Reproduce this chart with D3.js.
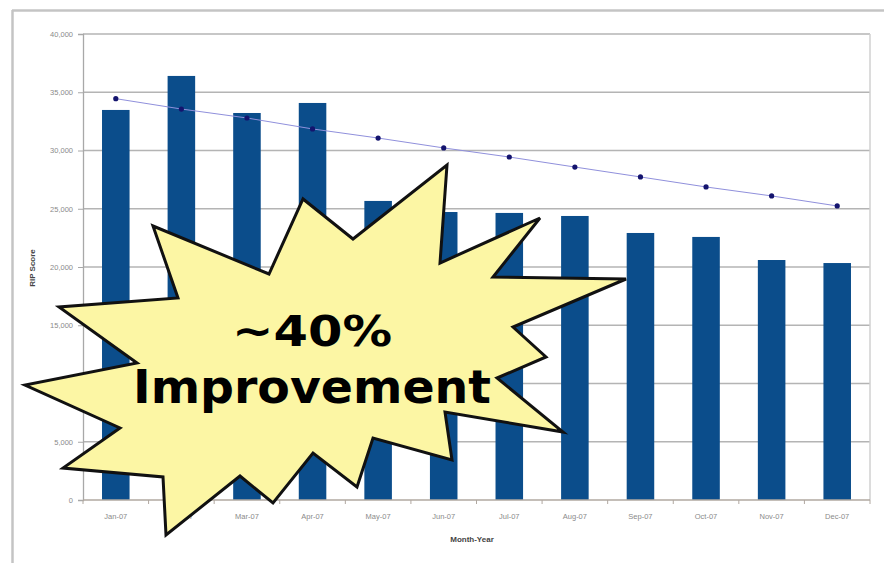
<!DOCTYPE html>
<html><head><meta charset="utf-8">
<script src="https://cdn.jsdelivr.net/npm/d3@7"></script>
<style>html,body{margin:0;padding:0;background:#fff;}svg{display:block;}</style>
</head><body>
<svg id="chart" width="884" height="563"></svg>
<script>
const categories = ["Jan-07","Feb-07","Mar-07","Apr-07","May-07","Jun-07","Jul-07","Aug-07","Sep-07","Oct-07","Nov-07","Dec-07"];
const ripScore = [33480,36400,33220,34080,25670,24720,24640,24380,22920,22580,20600,20340];
const trendValues = [34450,33560,32790,31850,31070,30220,29440,28580,27730,26870,26100,25240];
const yTicks = [0,5000,10000,15000,20000,25000,30000,35000,40000];
const yTitle = "RIP Score";
const xTitle = "Month-Year";
const calloutLines = ["~40%","Improvement"];
// starburst outline, in pixel space of the picture (annotation shape)
const burst = [[153,226],[269,274],[303,199],[353,239],[447,165],[440,263],[540,218],[493,277],[626,279],[513,327],[546,357],[497,378],[563,432],[445,412],[452,460],[373,438],[357,487],[313,453],[273,503],[240,476],[166,535],[163,477],[63,468],[120,428],[25,385],[137,363],[59,307],[178,298]];

const svg = d3.select("#chart");
const L = 83, R = 870, T = 34, B = 500;

// outer frame (top & left)
svg.append("line").attr("x1",12).attr("x2",884).attr("y1",10.5).attr("y2",10.5).attr("stroke","#c4c4c4").attr("stroke-width",2.5);
svg.append("line").attr("x1",12.5).attr("x2",12.5).attr("y1",10).attr("y2",563).attr("stroke","#c4c4c4").attr("stroke-width",2.5);

const x = d3.scaleBand().domain(categories).range([L,R]).paddingInner(0.58).paddingOuter(0.29);
const y = d3.scaleLinear().domain([0,40000]).range([B,T]);

// gridlines
svg.append("g").selectAll("line").data(yTicks.filter(d=>d>0)).join("line")
  .attr("x1",L).attr("x2",R).attr("y1",d=>y(d)).attr("y2",d=>y(d))
  .attr("stroke","#b4b4b4").attr("stroke-width",1.6);
// plot right border
svg.append("line").attr("x1",R).attr("x2",R).attr("y1",T).attr("y2",B).attr("stroke","#d0d0d0").attr("stroke-width",1.5);

// bars
svg.append("g").selectAll("rect").data(ripScore).join("rect")
  .attr("x",(d,i)=>x(categories[i])).attr("width",x.bandwidth())
  .attr("y",d=>y(d)).attr("height",d=>B-y(d)).attr("fill","#0b4d8b");

// trend line
const cx = c => x(c)+x.bandwidth()/2;
svg.append("path").datum(trendValues)
  .attr("d",d3.line().x((d,i)=>cx(categories[i])).y(d=>y(d)))
  .attr("fill","none").attr("stroke","#9090dc").attr("stroke-width",1);
svg.append("g").selectAll("circle").data(trendValues).join("circle")
  .attr("cx",(d,i)=>cx(categories[i])).attr("cy",d=>y(d)).attr("r",2.6).attr("fill","#14146e");

// y axis
const yAxis = d3.axisLeft(y).tickValues(yTicks).tickSize(5).tickPadding(5).tickFormat(d3.format(","));
const gy = svg.append("g").attr("transform",`translate(${L},0)`).call(yAxis);
gy.select(".domain").attr("stroke","#a8a8a8").attr("stroke-width",1.3);
gy.selectAll(".tick line").attr("stroke","#a8a8a8");
gy.selectAll("text").attr("font-family","Arial, Liberation Sans, sans-serif").attr("font-size",7.5).attr("fill","#8a8a8a");

// x axis line and boundary ticks
svg.append("line").attr("x1",L).attr("x2",R).attr("y1",B).attr("y2",B).attr("stroke","#b0a8a0").attr("stroke-width",1.3);
const bounds = categories.map(c=>x(c)-x.step()*x.paddingInner()/2).concat([R]);
svg.append("g").selectAll("line").data(bounds).join("line")
  .attr("x1",d=>d).attr("x2",d=>d).attr("y1",B).attr("y2",B+4).attr("stroke","#b0a8a0");
svg.append("g").selectAll("text").data(categories).join("text")
  .attr("x",d=>cx(d)).attr("y",519).attr("text-anchor","middle")
  .attr("font-family","Arial, Liberation Sans, sans-serif").attr("font-size",7.5).attr("fill","#8a8a8a").text(d=>d);

// titles
svg.append("text").attr("x",472).attr("y",542).attr("text-anchor","middle")
  .attr("font-family","Arial, Liberation Sans, sans-serif").attr("font-size",8).attr("font-weight","bold").attr("fill","#444").text(xTitle);
svg.append("text").attr("transform","translate(35,268) rotate(-90)").attr("text-anchor","middle")
  .attr("font-family","Arial, Liberation Sans, sans-serif").attr("font-size",8).attr("font-weight","bold").attr("fill","#444").text(yTitle);

// starburst callout
svg.append("polygon").attr("points",burst.map(p=>p.join(",")).join(" "))
  .attr("fill","#fcf6a4").attr("stroke","#111").attr("stroke-width",3).attr("stroke-linejoin","miter");
svg.append("text").attr("x",312).attr("y",346).attr("text-anchor","middle")
  .attr("textLength",160).attr("lengthAdjust","spacingAndGlyphs")
  .attr("font-family","DejaVu Sans, Verdana, sans-serif").attr("font-weight","bold").attr("font-size",43).attr("fill","#000").text(calloutLines[0]);
svg.append("text").attr("x",312).attr("y",403).attr("text-anchor","middle")
  .attr("textLength",358).attr("lengthAdjust","spacingAndGlyphs")
  .attr("font-family","DejaVu Sans, Verdana, sans-serif").attr("font-weight","bold").attr("font-size",47).attr("fill","#000").text(calloutLines[1]);
</script>
</body></html>
